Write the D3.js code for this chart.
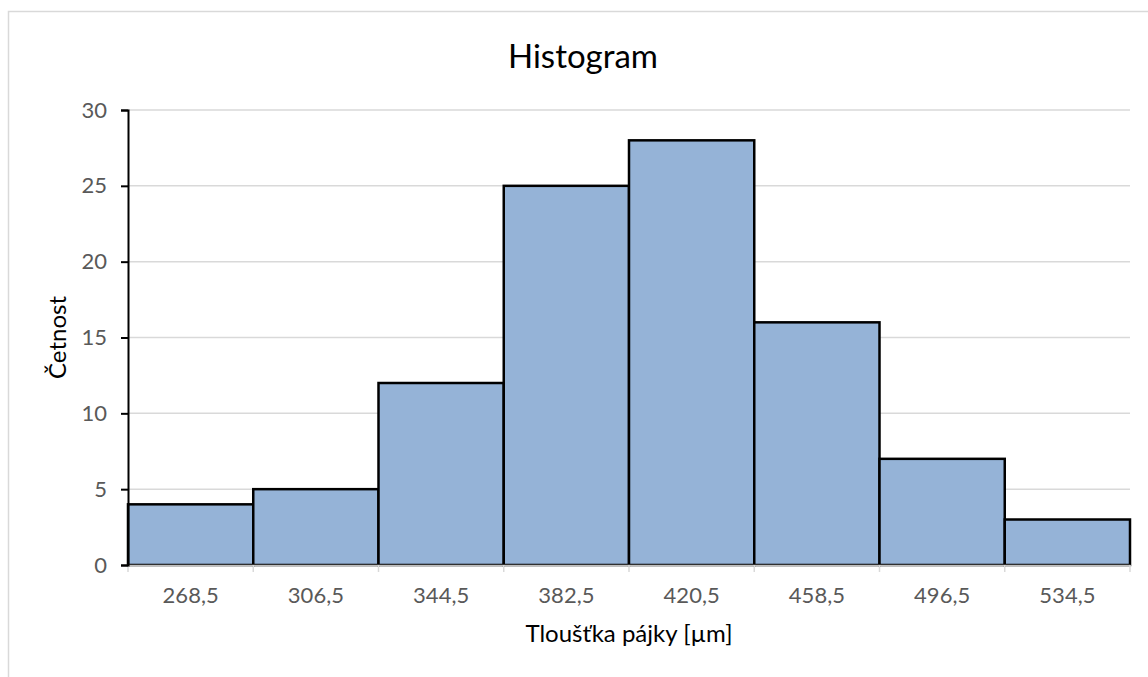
<!DOCTYPE html>
<html>
<head>
<meta charset="utf-8">
<script src="https://cdn.jsdelivr.net/npm/d3@7"></script>
<style>
    body { margin: 0; background: #fff; }
    svg { display: block; font-family: Lato, "Open Sans", sans-serif; }
</style>
</head>
<body>
<div id="chart"></div>
<script>
// bin centres and counts
const categories = ['268,5', '306,5', '344,5', '382,5', '420,5', '458,5', '496,5', '534,5'];
const counts = [4, 5, 12, 25, 28, 16, 7, 3];
const yTicks = [0, 5, 10, 15, 20, 25, 30];

const width = 1148;
const height = 677;
const margin = { top: 110, right: 18, bottom: 112, left: 128 };
const font = 'Lato, "Open Sans", sans-serif';

const svg = d3.select('#chart').append('svg')
    .attr('width', width)
    .attr('height', height);

// chart frame (cut off on right and bottom like the screenshot)
svg.append('rect')
    .attr('x', 8.5)
    .attr('y', 11.5)
    .attr('width', width + 20)
    .attr('height', height + 20)
    .attr('fill', 'none')
    .attr('stroke', '#d9d9d9')
    .attr('stroke-width', 1.5);

const x = d3.scaleBand()
    .domain(categories)
    .range([margin.left, width - margin.right])
    .padding(0);

const y = d3.scaleLinear()
    .domain([0, 30])
    .range([height - margin.bottom, margin.top]);

// gridlines
svg.append('g')
    .selectAll('line')
    .data(yTicks.filter(d => d > 0))
    .join('line')
    .attr('x1', margin.left)
    .attr('x2', width - margin.right)
    .attr('y1', d => y(d))
    .attr('y2', d => y(d))
    .attr('stroke', '#d9d9d9')
    .attr('stroke-width', 1.5);

// bars
svg.append('g')
    .selectAll('rect')
    .data(counts)
    .join('rect')
    .attr('x', (d, i) => x(categories[i]))
    .attr('y', d => y(d))
    .attr('width', x.bandwidth())
    .attr('height', d => y(0) - y(d))
    .attr('fill', '#95b3d7')
    .attr('stroke', '#000')
    .attr('stroke-width', 2.5);

// x axis
const xAxis = svg.append('g')
    .attr('transform', `translate(0,${y(0)})`)
    .call(d3.axisBottom(x).tickSize(0).tickPadding(22));
xAxis.attr('font-family', font).attr('font-size', 22);
xAxis.select('.domain').attr('stroke', '#bfbfbf').attr('stroke-width', 1.5);
xAxis.selectAll('text').attr('fill', '#595959');

// boundary ticks on x axis
const edges = categories.map(c => x(c)).concat([x(categories[categories.length - 1]) + x.bandwidth()]);
svg.append('g')
    .selectAll('line')
    .data(edges)
    .join('line')
    .attr('x1', d => d)
    .attr('x2', d => d)
    .attr('y1', y(0))
    .attr('y2', y(0) + 7)
    .attr('stroke', '#d9d9d9')
    .attr('stroke-width', 1.5);

// y axis
const yAxis = svg.append('g')
    .attr('transform', `translate(${margin.left},0)`)
    .call(d3.axisLeft(y).tickValues(yTicks).tickSize(7).tickPadding(14));
yAxis.attr('font-family', font).attr('font-size', 22);
yAxis.select('.domain').attr('stroke', '#000').attr('stroke-width', 2);
yAxis.selectAll('.tick line').attr('stroke', '#000').attr('stroke-width', 2);
yAxis.selectAll('text').attr('fill', '#595959');

// titles
svg.append('text')
    .attr('x', 583)
    .attr('y', 68)
    .attr('text-anchor', 'middle')
    .style('font-size', '33px')
    .attr('fill', '#000')
    .text('Histogram');

svg.append('text')
    .attr('x', 629)
    .attr('y', 642)
    .attr('text-anchor', 'middle')
    .style('font-size', '24px')
    .attr('fill', '#000')
    .text('Tloušťka pájky [µm]');

svg.append('text')
    .attr('transform', `translate(66,${(y(0) + y(30)) / 2}) rotate(-90)`)
    .attr('text-anchor', 'middle')
    .style('font-size', '24px')
    .attr('fill', '#000')
    .text('Četnost');
</script>
</body>
</html>
